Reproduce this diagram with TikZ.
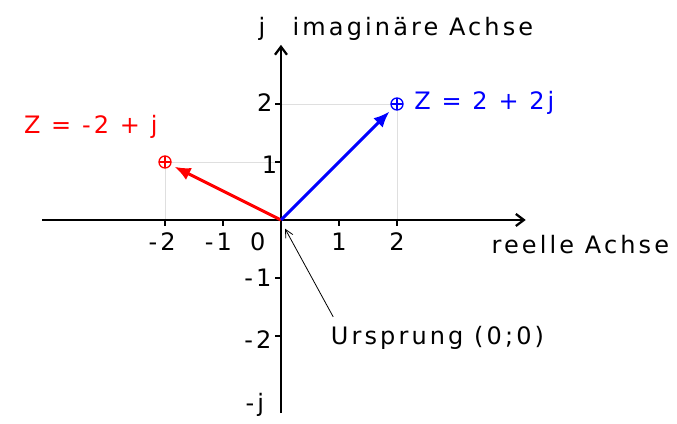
\documentclass[tikz,border=0pt]{standalone}
\usepackage{fontspec}
\setmainfont{DejaVu Sans}[LetterSpace=13]
\usetikzlibrary{arrows.meta}

\begin{document}
\begin{tikzpicture}[x=43.5pt, y=43.5pt, font=\fontsize{18}{21}\selectfont,
    achse/.style={line width=1.7pt, -{Straight Barb[length=6pt,width=9pt]}},
    strich/.style={line width=1.2pt},
    hilfslinie/.style={gray!25, line width=0.6pt},
    zeiger/.style={line width=2.2pt, -{Latex[length=12pt,width=10pt]}, shorten >=3pt},
    punkt/.style={circle, draw, line width=1pt, inner sep=0pt, minimum size=9pt,
        path picture={\draw[line width=0.8pt] (path picture bounding box.north) -- (path picture bounding box.south)
            (path picture bounding box.west) -- (path picture bounding box.east);}}]
    \useasboundingbox (-4.845,-3.517) rectangle (6.828,3.793);

    % Ursprung und Achsenenden
    \coordinate (O) at (0,0);
    \coordinate (xa) at (-4.12,0);
    \coordinate (xe) at (4.22,0);
    \coordinate (ya) at (0,-3.33);
    \coordinate (ye) at (0,3.02);

    % Hilfslinien (hellgrau)
    \draw[hilfslinie] (-2,0) -- (-2,1) -- (0,1);
    \draw[hilfslinie] (2,0) -- (2,2) -- (0,2);

    % Achsen
    \draw[achse] (xa) -- (xe);
    \draw[achse] (ya) -- (ye);

    % Teilstriche
    \foreach \x in {-2,-1,1,2}
        \draw[strich] (\x,0) -- (\x,-0.1);
    \foreach \y in {-2,-1,1,2}
        \draw[strich] (0,\y) -- (-0.1,\y);

    % Beschriftung der reellen Achse
    \node (xm2) at (-2.05,-0.38) {-2};
    \node (xm1) at (-1.08,-0.38) {-1};
    \node (x0) at (-0.4,-0.38) {0};
    \node (x1) at (1,-0.38) {1};
    \node (x2) at (2,-0.38) {2};
    \node[anchor=west] (reell) at (3.55,-0.42) {reelle Achse};

    % Beschriftung der imaginaeren Achse
    \node (y2) at (-0.28,2.02) {2};
    \node (y1) at (-0.2,0.95) {1};
    \node (ym1) at (-0.4,-1.0) {-1};
    \node (ym2) at (-0.4,-2.07) {-2};
    \node (ymj) at (-0.45,-3.19) {-j};
    \node (yj) at (-0.33,3.3) {j};
    \node[anchor=west] (imag) at (0.12,3.3) {imaginäre Achse};

    % Zeiger Z = -2 + j (rot)
    \node[punkt, red] (z1) at (-2,1) {};
    \draw[zeiger, red] (O) -- (z1);
    \node[red] (z1txt) at (-3.28,1.6) {Z = -2 + j};

    % Zeiger Z = 2 + 2j (blau)
    \node[punkt, blue] (z2) at (2,2) {};
    \draw[zeiger, blue] (O) -- (z2);
    \node[blue, anchor=west] (z2txt) at (2.22,2.02) {Z = 2 + 2j};

    % Ursprung
    \node[anchor=west] (urs) at (0.78,-2.03) {Ursprung (0;0)};
    \coordinate (ursfuss) at (0.9,-1.67);
    \draw[line width=0.6pt, -{Straight Barb[length=6pt,width=6pt]}] (ursfuss) -- (0.07,-0.15);
\end{tikzpicture}
\end{document}
